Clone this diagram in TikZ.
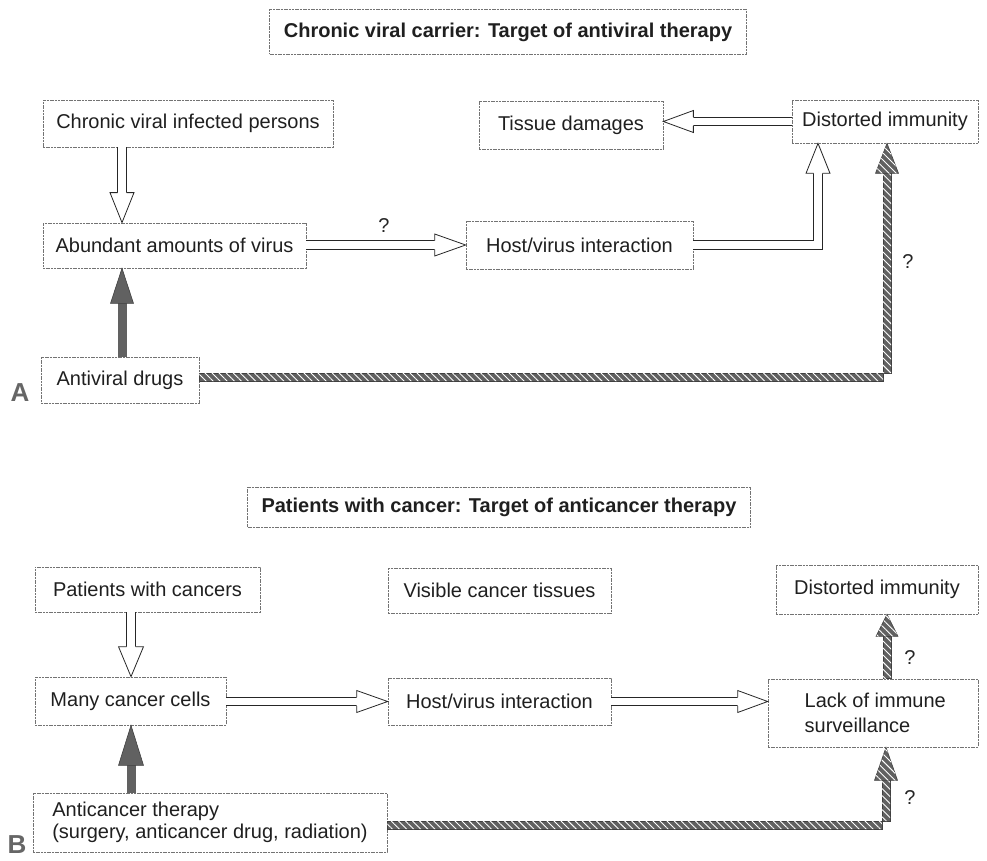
\documentclass[tikz,border=0pt]{standalone}
\usepackage{fontspec}
\setmainfont{Liberation Sans}
\usetikzlibrary{calc,patterns.meta}
\tikzset{
  box/.style={draw=black!55, line width=0.7pt, dash pattern=on 2pt off 0.7pt, inner sep=0pt,
    text=black!88, font=\fontsize{20}{22}\selectfont},
  sz/.style 2 args={minimum width=#1pt, minimum height=#2pt},
  ttl/.style={box, font=\fontsize{20}{22}\selectfont\bfseries},
  hshaft/.style={draw=black!85, line width=0.8pt, double=white, double distance=7.5pt, line join=miter},
  dshaft/.style={draw=black!62, line width=9pt},
  hatch/.style={fill=black!62, draw=black!75, line width=0.6pt,
    postaction={pattern={Lines[angle=-45,distance=5pt,line width=0.9pt]}, pattern color=white}},
  qm/.style={text=black!85, font=\fontsize{20}{22}\selectfont},
  lbl/.style={text=black!60, font=\fontsize{26}{28}\selectfont\bfseries},
  pics/hollowhead/.style args={#1/#2/#3}{code={
    \draw[fill=white, draw=black!85, line width=0.8pt, line join=miter]
      (-#1,#3) -- (-#1,#2) -- (0,0) -- (-#1,-#2) -- (-#1,-#3);}},
  pics/darkhead/.style args={#1/#2}{code={
    \draw[fill=black!62, draw=black!75, line width=0.6pt, line join=miter]
      (-#1,#2) -- (0,0) -- (-#1,-#2) -- cycle;}},
  pics/hatchhead/.style args={#1/#2}{code={
    \path[hatch, line join=miter] (-#1,#2) -- (0,0) -- (-#1,-#2) -- cycle;}},
}
\begin{document}
\begin{tikzpicture}[x=1pt,y=-1pt]
\useasboundingbox (0,0) rectangle (987,861);

% ---------- Part A ----------
\node[ttl, sz={477}{45}] (t1) at (508,32) {Chronic viral carrier: Target of antiviral therapy};
\node[box, sz={290}{47}] (cvip) at (188,123.5) {Chronic viral infected persons};
\node[box, sz={263}{45}] (aav) at (174.5,245.5) {Abundant amounts of virus};
\node[box, sz={184}{48}] (td) at (571,125) {Tissue damages};
\node[box, sz={227}{48}] (hvi) at (579.5,245) {Host/virus interaction};
\node[box, sz={186}{43}] (di) at (885,121.5) {Distorted immunity};
\node[box, sz={158}{46}] (avd) at (120,380) {Antiviral drugs};
\node[lbl] (la) at (20,393) {A};

\coordinate (xa) at (122,0);
\coordinate (xb) at (818,0);
\coordinate (kA) at (887,377);

% cvip -> aav
\draw[hshaft] (cvip.south -| xa) -- ($(aav.north -| xa)+(0,-30)$);
\pic[rotate=-90] at (aav.north -| xa) {hollowhead={30/12/4.5}};
% aav -> hvi
\draw[hshaft] (aav.east |- hvi.west) -- ($(hvi.west)+(-31,0)$);
\pic at (hvi.west) {hollowhead={31/11/4.5}};
\node[qm] (q1) at (384,226) {?};
% di -> td
\draw[hshaft] (di.west) -- ($(td.east |- di.west)+(30,0)$);
\pic[rotate=180] at (td.east |- di.west) {hollowhead={30/11/4.5}};
% hvi -> di (elbow)
\draw[hshaft] (hvi.east) -- (hvi.east -| xb) -- ($(di.south -| xb)+(0,30)$);
\pic[rotate=90] at (di.south -| xb) {hollowhead={30/12/4.5}};
% avd -> aav (dark)
\draw[dshaft] (avd.north -| xa) -- ($(aav.south -| xa)+(0,34)$);
\pic[rotate=90] at (aav.south -| xa) {darkhead={35/11.5}};
% avd -> di (hatched elbow)
\path[hatch] ($(avd.east |- kA)+(0,-4)$) -- ($(kA)+(4,-4)$) -- ($(di.south -| kA)+(4,29)$)
  -- ($(di.south -| kA)+(-4,29)$) -- ($(kA)+(-4,4)$) -- ($(avd.east |- kA)+(0,4)$) -- cycle;
\pic[rotate=90] at (di.south -| kA) {hatchhead={30/11.5}};
\node[qm] (q2) at (908,262) {?};

% ---------- Part B ----------
\node[ttl, sz={503}{40}] (t2) at (499,507) {Patients with cancer: Target of anticancer therapy};
\node[box, sz={225}{45}] (pwc) at (147.5,589.5) {Patients with cancers};
\node[box, sz={191}{48}] (mcc) at (130.5,701) {Many cancer cells};
\node[box, sz={223}{45}] (vct) at (499.5,590.5) {Visible cancer tissues};
\node[box, sz={223}{47}] (hvi2) at (499.5,701.5) {Host/virus interaction};
\node[box, sz={202}{49}] (di2) at (877,589.5) {Distorted immunity};
\node[box, sz={210}{68}, align=left, font=\fontsize{20}{25}\selectfont] (lis) at (873,713) {\hspace*{10pt}Lack of immune\\\hspace*{10pt}surveillance\hspace*{41pt}};
\node[box, sz={354}{59}, align=left] (act) at (210,822.5) {Anticancer therapy\\(surgery, anticancer drug, radiation)};
\node[lbl] (lb) at (17,845) {B};

\coordinate (xc) at (131,0);
\coordinate (xd) at (887,0);
\coordinate (kB) at (886,825);

% pwc -> mcc
\draw[hshaft] (pwc.south -| xc) -- ($(mcc.north -| xc)+(0,-30)$);
\pic[rotate=-90] at (mcc.north -| xc) {hollowhead={30/12.5/4.5}};
% mcc -> hvi2
\draw[hshaft] (mcc.east |- hvi2.west) -- ($(hvi2.west)+(-31,0)$);
\pic at (hvi2.west) {hollowhead={31/11/4.5}};
% hvi2 -> lis
\draw[hshaft] (hvi2.east) -- ($(lis.west |- hvi2.east)+(-30,0)$);
\pic at (lis.west |- hvi2.east) {hollowhead={30/11/4.5}};
% lis -> di2 (hatched)
\path[hatch] ($(lis.north -| xd)+(-4,0)$) rectangle ($(di2.south -| xd)+(4,22)$);
\pic[rotate=90] at (di2.south -| xd) {hatchhead={22/11}};
\node[qm] (q3) at (910,658) {?};
% act -> mcc (dark)
\draw[dshaft] (act.north -| xc) -- ($(mcc.south -| xc)+(0,39)$);
\pic[rotate=90] at (mcc.south -| xc) {darkhead={40/12.5}};
% act -> lis (hatched elbow)
\path[hatch] ($(act.east |- kB)+(0,-4)$) -- ($(kB)+(4,-4)$) -- ($(lis.south -| kB)+(4,32)$)
  -- ($(lis.south -| kB)+(-4,32)$) -- ($(kB)+(-4,4)$) -- ($(act.east |- kB)+(0,4)$) -- cycle;
\pic[rotate=90] at (lis.south -| kB) {hatchhead={33/11.5}};
\node[qm] (q4) at (910,798) {?};
\end{tikzpicture}
\end{document}
